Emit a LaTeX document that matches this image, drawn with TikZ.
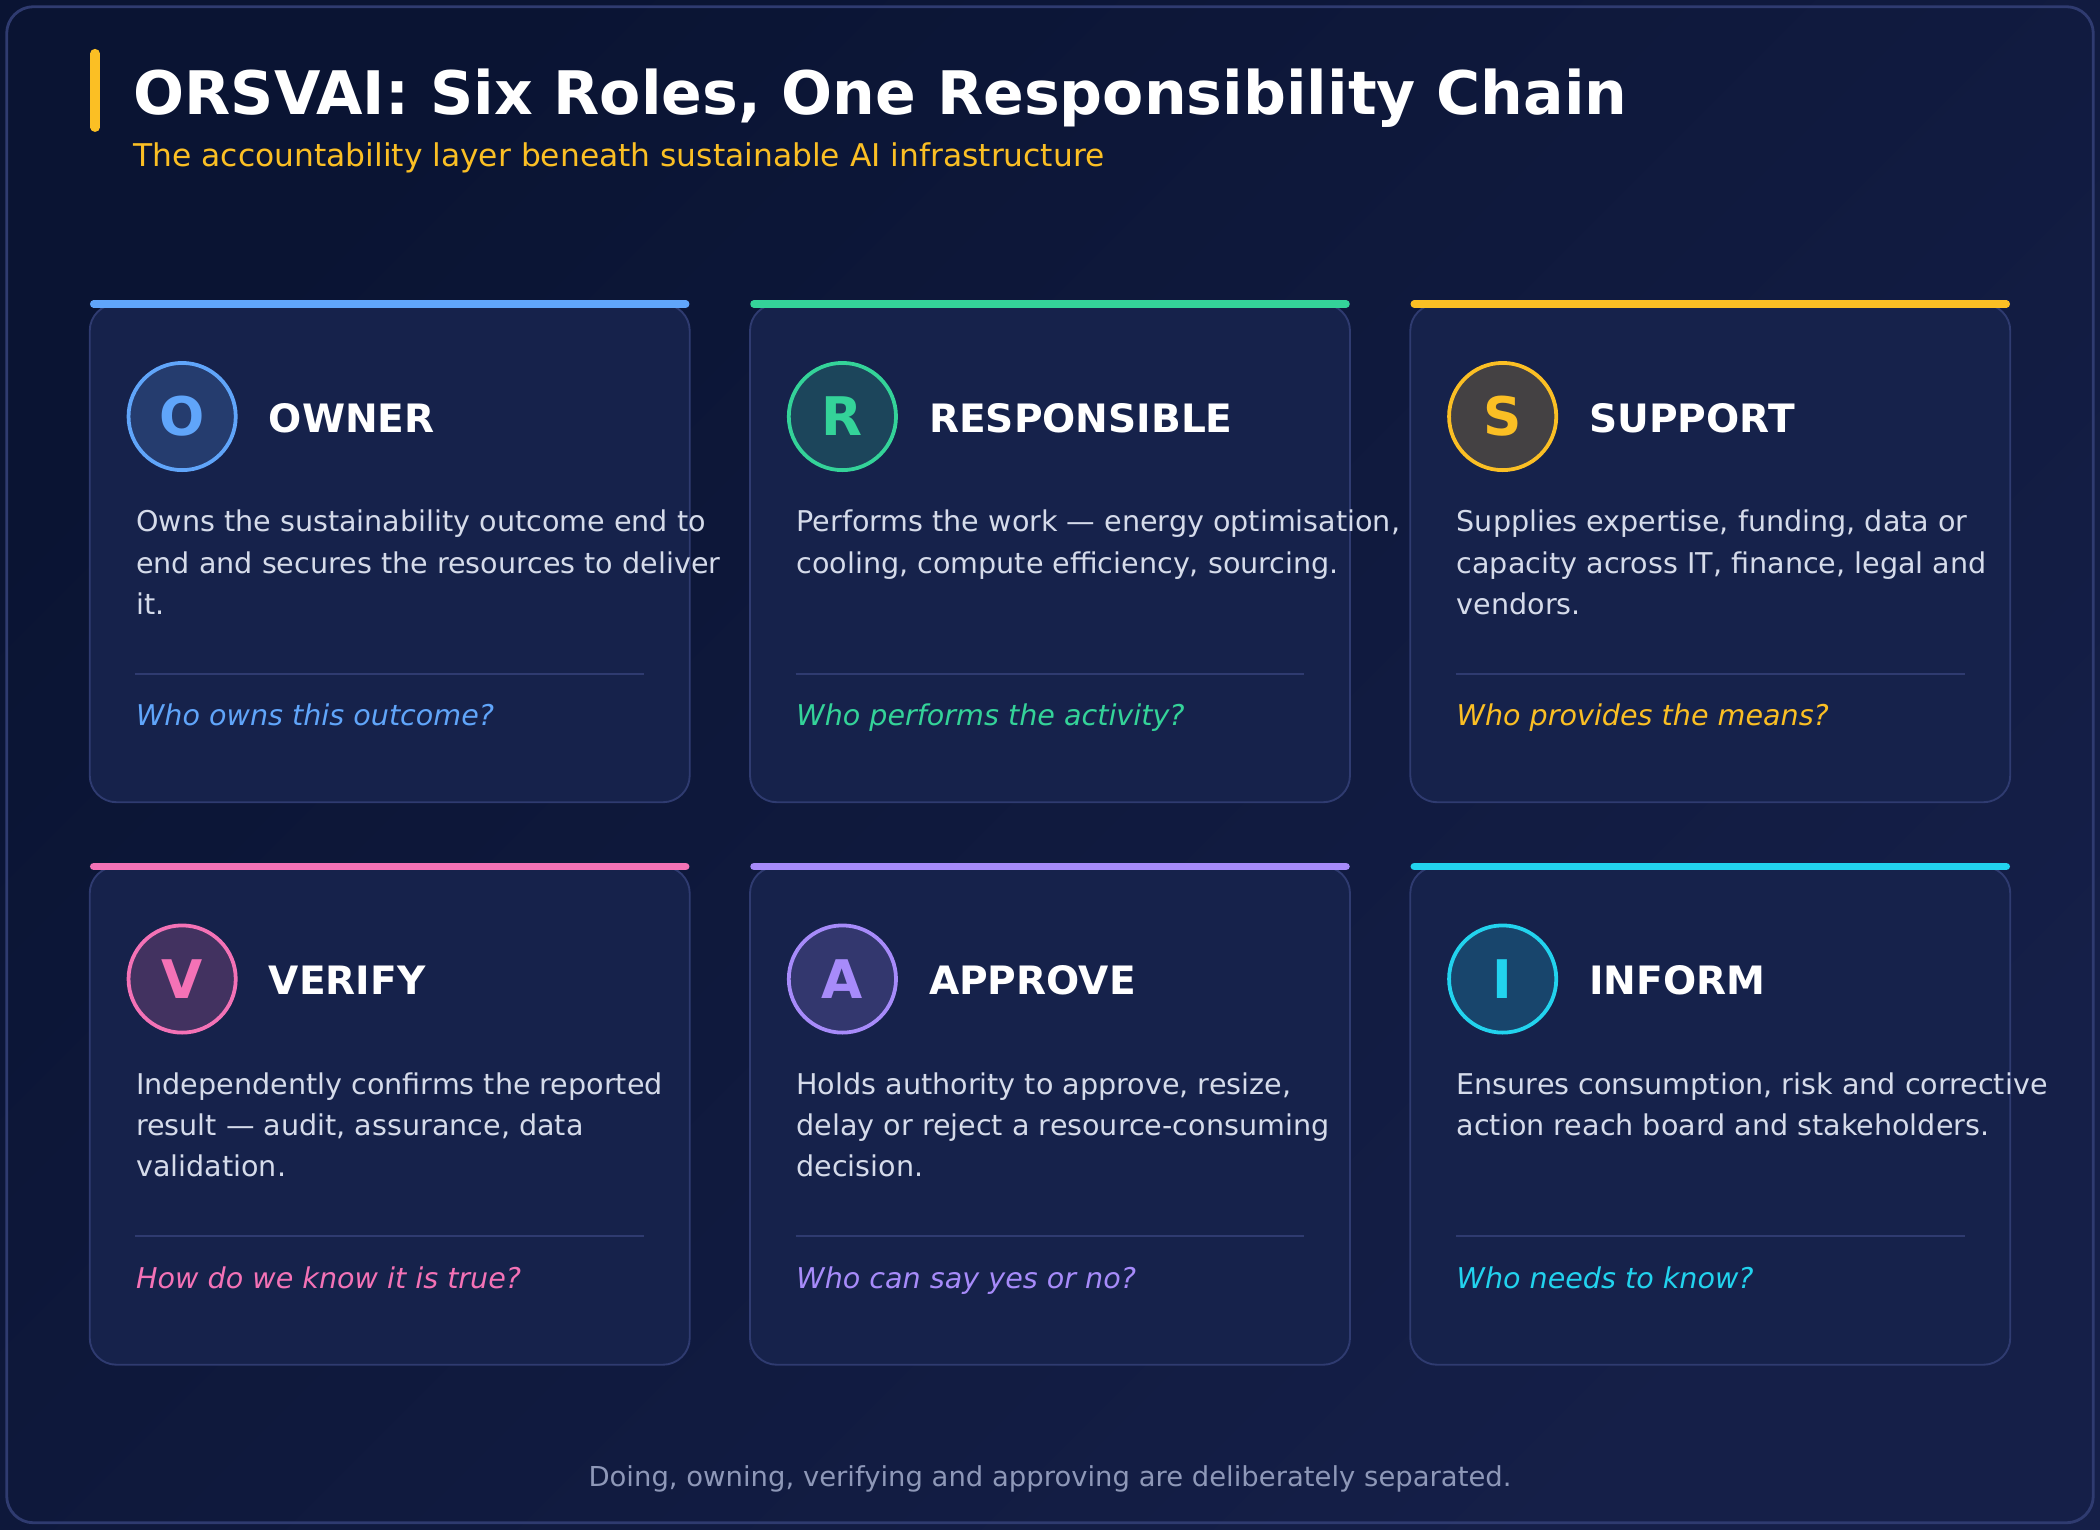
\documentclass[tikz,border=0pt]{standalone}
\usepackage{fontspec}
\setmainfont{DejaVu Sans}
\usetikzlibrary{positioning}
\definecolor{bgdark}{HTML}{0A1433}
\definecolor{bglight}{HTML}{151F48}
\definecolor{cardbg}{HTML}{16224B}
\definecolor{cardline}{HTML}{2F3B70}
\definecolor{owncol}{HTML}{60A5FA}
\definecolor{rescol}{HTML}{34D399}
\definecolor{supcol}{HTML}{FBBF24}
\definecolor{vercol}{HTML}{F472B6}
\definecolor{appcol}{HTML}{A78BFA}
\definecolor{infcol}{HTML}{22D3EE}
\definecolor{desctext}{HTML}{D5DBEA}
\definecolor{foottext}{HTML}{8E98B8}
\newcommand{\sz}[1]{\fontsize{#1}{#1}\selectfont}
% one role card: name, x, y (top), colour, letter, role, description, question
\newcommand{\rolecard}[8]{%
  \filldraw[fill=cardbg, draw=cardline, line width=0.4pt, rounded corners=0.2cm] (#2,#3) rectangle (#2+448,#3+372);
  \draw[#4, line width=1.6pt, line cap=round] (#2+3,#3) -- (#2+445,#3);
  \node[circle, minimum size=0.8cm, inner sep=0pt, draw=#4, line width=0.8pt, fill=#4!20!cardbg] (#1_icon) at (#2+69,#3+84) {\sz{11.3}\bfseries\color{#4}#5};
  \node[anchor=west, inner sep=0pt] (#1_role) at (#2+133,#3+85) {\sz{8.3}\bfseries\color{white}#6};
  \node[anchor=north west, inner sep=0pt, align=left, text=desctext, font=\fontsize{6.07}{8.8}\selectfont] (#1_desc) at (#2+34,#3+153) {#7};
  \draw[cardline, line width=0.4pt] (#2+34,#3+276) -- (#2+414,#3+276);
  \node[anchor=base west, inner sep=0pt] (#1_quest) at (#2+34,#3+315) {\sz{6.07}\itshape\color{#4}#8};
}
\begin{document}
\begin{tikzpicture}[x=0.01cm, y=-0.01cm]
      \def\colA{67}
      \def\colB{560}
      \def\colC{1053}
      \def\rowA{227}
      \def\rowB{647}
      % -------------------------------------------- background
      \shade[left color=bgdark, right color=bglight, shading angle=45] (0,0) rectangle (1568,1142);
      \useasboundingbox (0,0) rectangle (1568,1142);
      \draw[cardline, line width=0.6pt, rounded corners=0.2cm] (5,5) rectangle (1563,1137);
      % -------------------------------------------- header
      \draw[supcol, line width=2pt, line cap=round] (71,40) -- (71,95);
      \node[anchor=west, inner sep=0pt] (title) at (99,73) {\sz{12.75}\bfseries\color{white}ORSVAI: Six Roles, One Responsibility Chain};
      \node[anchor=west, inner sep=0pt] (subtitle) at (99,118) {\sz{6.65}\color{supcol}The accountability layer beneath sustainable AI infrastructure};
      % -------------------------------------------- cards
      \rolecard{owner}{\colA}{\rowA}{owncol}{O}{OWNER}{Owns the sustainability outcome end to\\end and secures the resources to deliver\\it.}{Who owns this outcome?}
      \rolecard{resp}{\colB}{\rowA}{rescol}{R}{RESPONSIBLE}{Performs the work — energy optimisation,\\cooling, compute efficiency, sourcing.}{Who performs the activity?}
      \rolecard{supp}{\colC}{\rowA}{supcol}{S}{SUPPORT}{Supplies expertise, funding, data or\\capacity across IT, finance, legal and\\vendors.}{Who provides the means?}
      \rolecard{verif}{\colA}{\rowB}{vercol}{V}{VERIFY}{Independently confirms the reported\\result — audit, assurance, data\\validation.}{How do we know it is true?}
      \rolecard{appr}{\colB}{\rowB}{appcol}{A}{APPROVE}{Holds authority to approve, resize,\\delay or reject a resource-consuming\\decision.}{Who can say yes or no?}
      \rolecard{inform}{\colC}{\rowB}{infcol}{I}{INFORM}{Ensures consumption, risk and corrective\\action reach board and stakeholders.}{Who needs to know?}
      % -------------------------------------------- footer
      \node (footer) at (784,1104) {\sz{5.83}\color{foottext}Doing, owning, verifying and approving are deliberately separated.};
\end{tikzpicture}
\end{document}
